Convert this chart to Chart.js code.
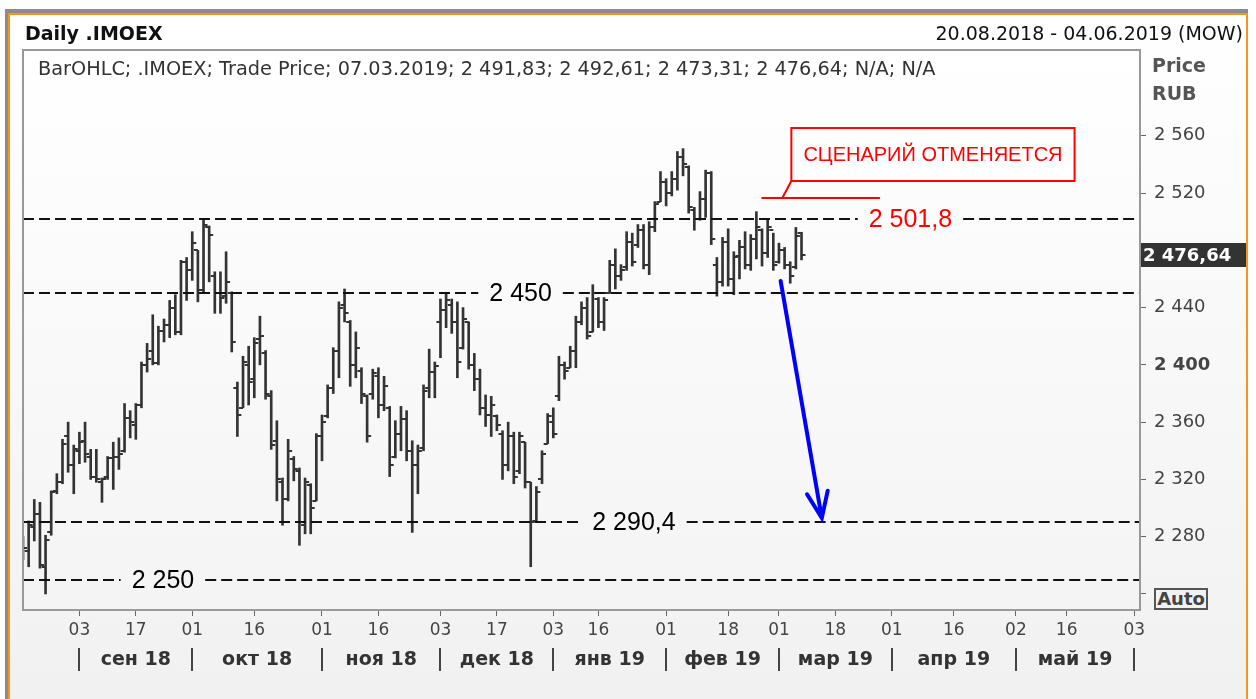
<!DOCTYPE html>
<html><head><meta charset="utf-8">
<script src="https://cdn.jsdelivr.net/npm/chart.js@4.4.1/dist/chart.umd.min.js"></script>
<style>
html,body{margin:0;padding:0;background:#fff;width:1256px;height:699px;overflow:hidden;font-family:"DejaVu Sans",sans-serif}
#gray{position:absolute;left:5px;top:9px;width:1243px;height:690px;border-top:4px solid #8c8c8c;border-left:3px solid #8c8c8c;box-sizing:border-box}
#frame{position:absolute;left:8px;top:13px;width:1240px;height:686px;border:2px solid #f7941d;border-bottom:none;box-sizing:border-box;background:linear-gradient(#fff,#f1f1f1)}
canvas{position:absolute;left:0;top:0}
.t{position:absolute;white-space:nowrap;line-height:1}
#auto{left:1154px;top:588px;width:54px;height:22px;box-sizing:border-box;border:2px solid #555;background:#f2f2f2;font-weight:bold;font-size:18px;color:#444;text-align:center;line-height:18px}
</style></head><body>
<div id="gray"></div><div id="frame"></div>
<canvas id="c" width="1256" height="699"></canvas>
<div class="t" style="left:25px;top:24px;font-weight:bold;font-size:19px;color:#111">Daily .IMOEX</div>
<div class="t" style="right:13px;top:24px;font-size:19px;color:#111">20.08.2018 - 04.06.2019 (MOW)</div>
<div class="t" style="left:38px;top:59px;font-size:19.3px;color:#333">BarOHLC; .IMOEX; Trade Price; 07.03.2019; 2 491,83; 2 492,61; 2 473,31; 2 476,64; N/A; N/A</div>
<div class="t" style="left:1152px;top:56px;font-size:19px;font-weight:bold;color:#555">Price</div>
<div class="t" style="left:1152px;top:84px;font-size:19px;font-weight:bold;color:#555">RUB</div>
<div class="t" id="auto">Auto</div>
<script>
// ---- data ----
const holidays = ["2018-11-05","2018-12-31","2019-01-01","2019-01-02","2019-01-07","2019-03-08","2019-05-01","2019-05-09"];
const tickDays = ["2018-09-03","2018-09-17","2018-10-01","2018-10-16","2018-11-01","2018-11-16","2018-12-03","2018-12-17",
  "2019-01-03","2019-01-16","2019-02-01","2019-02-18","2019-03-01","2019-03-18","2019-04-01","2019-04-16","2019-05-02","2019-05-16","2019-06-03"];
const monthStarts = ["2018-09-03","2018-10-01","2018-11-01","2018-12-03","2019-01-03","2019-02-01","2019-03-01","2019-04-01","2019-05-02","2019-06-03"];
const monthNames = ["сен 18","окт 18","ноя 18","дек 18","янв 19","фев 19","мар 19","апр 19","май 19"];
const yTicks = [2240,2280,2320,2360,2400,2440,2480,2520,2560];

const opens  = [2276,2270,2287,2296,2259,2283,2312,2318,2350,2330,2340,2347,2336,2322,2318,2322,2335,2336,2340,2363,
  2358,2372,2400,2410,2401,2424,2428,2440,2423,2472,2466,2480,2452,2496,2462,2450,2448,2450,2384,2370,
  2400,2390,2418,2408,2378,2347,2318,2306,2334,2326,2288,2316,2305,2350,2364,2384,2410,2442,2430,2400,
  2396,2378,2380,2392,2372,2370,2336,2352,2362,2340,2330,2342,2384,2395,2430,2438,2442,2430,2412,2430,
  2400,2390,2370,2365,2364,2352,2330,2350,2326,2346,2318,2291,2320,2345,2360,2378,2400,2398,2410,2430,
  2440,2423,2446,2430,2450,2470,2462,2468,2486,2484,2494,2470,2496,2514,2528,2520,2530,2545,2538,2508,
  2502,2516,2534,2470,2458,2486,2460,2476,2482,2470,2488,2494,2478,2494,2472,2480,2470,2468,2491.83];
const highs  = [2280,2291,2306,2304,2281,2312,2324,2348,2360,2344,2353,2360,2341,2341,2321,2336,2346,2349,2373,2368,
  2373,2402,2415,2435,2427,2432,2445,2449,2473,2475,2493,2480,2501.8,2497,2465,2465,2479,2451,2388,2406,
  2413,2419,2434,2410,2382,2361,2321,2348,2336,2328,2321,2317,2352,2365,2386,2412,2444,2453,2431,2423,
  2398,2379,2397,2398,2392,2371,2361,2371,2368,2347,2344,2386,2411,2402,2446,2450,2446,2444,2440,2430,
  2408,2397,2379,2378,2365,2354,2360,2353,2353,2346,2318,2315,2340,2366,2370,2406,2402,2413,2434,2444,
  2447,2456,2447,2447,2473,2481,2470,2493,2492,2498,2498,2500,2514,2535,2530,2535,2549,2551,2539,2510,
  2521,2536,2535,2475,2489,2495,2479,2487,2493,2491,2507,2495,2502,2492,2485,2482,2472,2496,2492.61];
const lows   = [2264,2259,2277,2258,2240,2281,2310,2317,2325,2310,2331,2332,2320,2318,2304,2320,2313,2327,2339,2349,
  2348,2370,2395,2400,2400,2416,2419,2421,2421,2445,2459,2444,2450,2458,2436,2436,2443,2409,2350,2370,
  2372,2377,2400,2376,2341,2305,2288,2305,2319,2274,2282,2282,2305,2333,2363,2380,2391,2430,2385,2391,
  2373,2346,2376,2363,2368,2322,2335,2340,2333,2283,2310,2340,2377,2377,2405,2426,2422,2391,2411,2397,
  2382,2365,2357,2350,2354,2320,2326,2317,2324,2314,2259,2290,2317,2345,2349,2375,2390,2398,2398,2428,
  2418,2423,2426,2424,2450,2453,2459,2466,2469,2482,2467,2463,2493,2514,2511,2518,2522,2532,2506,2494,
  2501,2503,2484,2448,2455,2455,2449,2460,2467,2466,2474,2469,2475,2466,2471,2467,2457,2467,2473.31];
const closes = [2272,2288,2296,2260,2278,2311,2318,2345,2330,2341,2346,2338,2322,2320,2320,2335,2336,2338,2363,2360,
  2372,2400,2404,2401,2424,2428,2440,2423,2472,2466,2485,2452,2498,2491,2450,2447,2458,2416,2365,2402,
  2388,2415,2420,2380,2344,2320,2306,2340,2327,2290,2318,2300,2350,2360,2384,2410,2440,2436,2400,2412,
  2380,2350,2394,2372,2385,2330,2352,2362,2340,2330,2340,2382,2395,2399,2438,2445,2430,2402,2432,2400,
  2390,2370,2365,2372,2358,2330,2350,2322,2350,2318,2290,2311,2338,2364,2352,2400,2396,2410,2430,2440,
  2420,2450,2430,2445,2470,2462,2466,2486,2472,2494,2470,2496,2512,2528,2520,2530,2545,2540,2510,2502,
  2516,2534,2488,2458,2486,2460,2475,2482,2470,2488,2496,2478,2496,2470,2480,2470,2462,2490,2476.64];

// trading-day categories (weekdays minus exchange holidays)
function tradingDays(a, b, skip){
  const out = []; const d = new Date(a+"T00:00:00Z"); const e = new Date(b+"T00:00:00Z");
  while (d <= e){ const s = d.toISOString().slice(0,10), wd = d.getUTCDay();
    if (wd !== 0 && wd !== 6 && !skip.includes(s)) out.push(s); d.setUTCDate(d.getUTCDate()+1); }
  return out;
}
const dates = tradingDays("2018-08-20", "2019-06-04", holidays);

// ---- annotations (data coordinates) ----
const levels = [
  {value:2501.8, text:"2 501,8", color:"#ff0000", at:157.3},
  {value:2450,   text:"2 450",   color:"#000",    at:88.2},
  {value:2290.4, text:"2 290,4", color:"#000",    at:108.3},
  {value:2250,   text:"2 250",   color:"#000",    at:24.8}
];
const callout = {text:"СЦЕНАРИЙ ОТМЕНЯЕТСЯ", i0:136.2, i1:186.4, v0:2565.4, v1:2528.4, lineV:2516.4, lineI0:130.9, lineI1:151.9, footI:134.6};
const arrow = {i0:134.3, v0:2458.6, i1:141.6, v1:2293};

const fmt = v => String(v).replace(/\B(?=(\d{3})+(?!\d))/g, " ");
const FONT = '"DejaVu Sans", sans-serif';
const lastClose = closes[closes.length-1];

const backdrop = {
  id:"backdrop",
  beforeDraw(c){
    const {ctx, chartArea:a} = c;
    const g = ctx.createLinearGradient(0, a.top, 0, a.bottom);
    g.addColorStop(0, "#ffffff"); g.addColorStop(1, "#f4f4f4");
    ctx.save(); ctx.fillStyle = g; ctx.fillRect(a.left, a.top, a.right-a.left, a.bottom-a.top); ctx.restore();
  },
  afterDraw(c){
    const {ctx, chartArea:a, scales:{x,y}} = c;
    ctx.save();
    ctx.strokeStyle = "#999"; ctx.lineWidth = 2;
    ctx.strokeRect(a.left, a.top, a.right-a.left, a.bottom-a.top);
    // month row
    ctx.strokeStyle = "#444"; ctx.lineWidth = 2;
    const px = monthStarts.map(d => x.getPixelForValue(dates.indexOf(d)));
    ctx.beginPath();
    px.forEach(p => { ctx.moveTo(Math.round(p), 648); ctx.lineTo(Math.round(p), 671); });
    ctx.stroke();
    ctx.fillStyle = "#333"; ctx.font = "bold 19px " + FONT; ctx.textAlign = "center"; ctx.textBaseline = "middle";
    monthNames.forEach((m,k) => ctx.fillText(m, (px[k]+px[k+1])/2, 660));
    // last price box
    const yl = y.getPixelForValue(lastClose);
    ctx.fillStyle = "#333"; ctx.fillRect(a.right+1, Math.round(yl)-12, 105, 24);
    ctx.fillStyle = "#fff"; ctx.font = "bold 18px " + FONT; ctx.textAlign = "left";
    ctx.fillText(fmt(Math.floor(lastClose)) + "," + lastClose.toFixed(2).split(".")[1], a.right+3, yl+1);
    ctx.restore();
  }
};

const ohlcTicks = {
  id:"ohlcTicks",
  afterDatasetsDraw(c){
    const {ctx, chartArea:a, scales:{x,y}} = c;
    ctx.save();
    ctx.beginPath(); ctx.rect(a.left+1, a.top, a.right-a.left-1, a.bottom-a.top); ctx.clip();
    ctx.strokeStyle = "#333"; ctx.lineWidth = 2; ctx.beginPath();
    opens.forEach((o,i) => {
      const p = x.getPixelForValue(i), yo = Math.round(y.getPixelForValue(o)), yc = Math.round(y.getPixelForValue(closes[i]));
      ctx.moveTo(p-4, yo); ctx.lineTo(p, yo); ctx.moveTo(p, yc); ctx.lineTo(p+4, yc);
    });
    ctx.stroke(); ctx.restore();
  }
};

const marks = {
  id:"marks",
  afterDatasetsDraw(c){
    const {ctx, chartArea:a, scales:{x,y}} = c;
    ctx.save();
    // level lines with labels
    ctx.font = '25px "Liberation Sans", sans-serif'; ctx.textAlign = "center"; ctx.textBaseline = "middle";
    levels.forEach(l => {
      const yy = Math.round(y.getPixelForValue(l.value)), cx = x.getPixelForValue(l.at);
      const w = ctx.measureText(l.text).width, gap = 11;
      ctx.strokeStyle = "#111"; ctx.lineWidth = 2; ctx.setLineDash([11,5]);
      ctx.beginPath();
      ctx.moveTo(a.left, yy); ctx.lineTo(cx - w/2 - gap, yy);
      ctx.moveTo(cx + w/2 + gap, yy); ctx.lineTo(a.right, yy);
      ctx.stroke(); ctx.setLineDash([]);
      ctx.fillStyle = l.color; ctx.fillText(l.text, cx, yy + 1);
    });
    // callout
    const bx0 = x.getPixelForValue(callout.i0), bx1 = x.getPixelForValue(callout.i1);
    const by0 = y.getPixelForValue(callout.v0), by1 = y.getPixelForValue(callout.v1);
    const ly = Math.round(y.getPixelForValue(callout.lineV));
    ctx.strokeStyle = "#ff0000"; ctx.lineWidth = 2;
    ctx.beginPath();
    ctx.moveTo(x.getPixelForValue(callout.lineI0), ly); ctx.lineTo(x.getPixelForValue(callout.lineI1), ly);
    ctx.moveTo(bx0, by1); ctx.lineTo(x.getPixelForValue(callout.footI), ly);
    ctx.stroke();
    ctx.fillStyle = "#fff"; ctx.fillRect(bx0, by0, bx1-bx0, by1-by0);
    ctx.strokeRect(bx0, by0, bx1-bx0, by1-by0);
    ctx.fillStyle = "#ff0000"; ctx.font = '20px "Liberation Sans", sans-serif';
    ctx.fillText(callout.text, (bx0+bx1)/2, (by0+by1)/2 + 1);
    // arrow
    const ax0 = x.getPixelForValue(arrow.i0), ay0 = y.getPixelForValue(arrow.v0);
    const ax1 = x.getPixelForValue(arrow.i1), ay1 = y.getPixelForValue(arrow.v1);
    const ang = Math.atan2(ay1-ay0, ax1-ax0), hl = 28, ha = 22*Math.PI/180;
    ctx.strokeStyle = "#0000ff"; ctx.lineWidth = 4; ctx.lineCap = "round";
    ctx.beginPath();
    ctx.moveTo(ax0, ay0); ctx.lineTo(ax1, ay1);
    ctx.moveTo(ax1 - hl*Math.cos(ang-ha), ay1 - hl*Math.sin(ang-ha)); ctx.lineTo(ax1, ay1);
    ctx.lineTo(ax1 - hl*Math.cos(ang+ha), ay1 - hl*Math.sin(ang+ha));
    ctx.stroke();
    ctx.restore();
  }
};

new Chart(document.getElementById("c"), {
  type:"bar",
  data:{labels:dates, datasets:[{
    data:dates.map((d,i) => i < highs.length ? [lows[i], highs[i]] : null),
    backgroundColor:"#333", borderWidth:0, barThickness:2, borderSkipped:false
  }]},
  options:{
    responsive:false, animation:false, devicePixelRatio:1,
    layout:{padding:{left:23, top:50, right:0, bottom:0}},
    plugins:{legend:{display:false}, tooltip:{enabled:false}},
    scales:{
      x:{offset:false,
        grid:{offset:false, drawOnChartArea:false, tickLength:6, color:"#666"},
        border:{display:false},
        ticks:{autoSkip:false, maxRotation:0, minRotation:0, padding:4, color:"#444", font:{family:FONT, size:17},
          callback:(v,i) => tickDays.includes(dates[i]) ? dates[i].slice(8) : null},
        afterFit(s){ s.height = 89; }},
      y:{position:"right", min:2228.8, max:2619.9,
        afterBuildTicks(s){ s.ticks = yTicks.map(v => ({value:v})); },
        grid:{drawOnChartArea:false, tickLength:6, color:"#666"},
        border:{display:false},
        ticks:{padding:8, color:"#444",
          font:c => ({family:FONT, size:18, weight:(c.tick && c.tick.value === 2400) ? "bold" : "normal"}),
          // 2240 sits under the Auto box, 2480 under the last-price box
          callback:v => (v === 2240 || v === 2480) ? "" : fmt(v)},
        afterFit(s){ s.width = 116; }}
    }
  },
  plugins:[backdrop, ohlcTicks, marks]
});
</script>
</body></html>
